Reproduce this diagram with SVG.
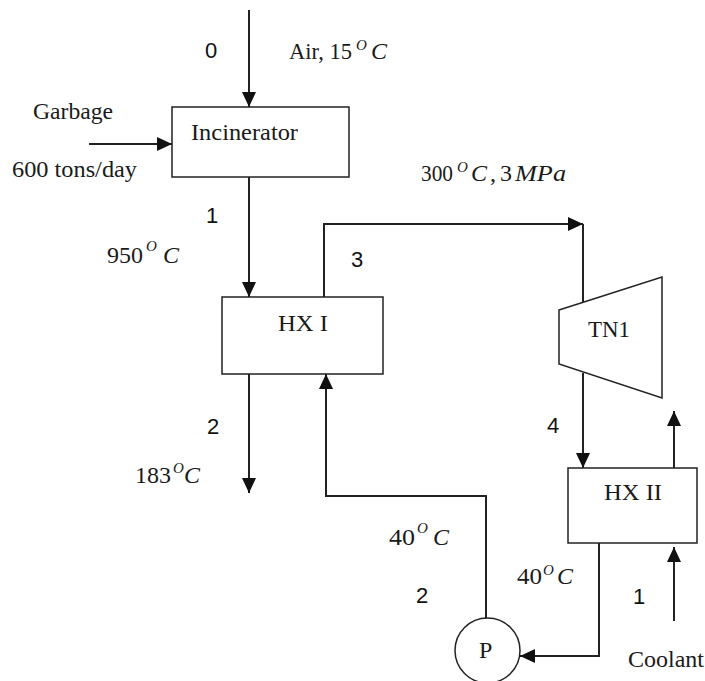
<svg xmlns="http://www.w3.org/2000/svg" width="705" height="681" viewBox="0 0 705 681">
<style>
.box{fill:#fff;stroke:#222;stroke-width:1.5}
.ln{fill:none;stroke:#222;stroke-width:2}
.t{font-family:"Liberation Serif","Times New Roman",serif;font-size:24px;fill:#1a1a1a}
.it{font-style:italic}
.sup{font-family:"Liberation Serif","Times New Roman",serif;font-style:italic;font-size:15px;fill:#1a1a1a}
.n{font-family:"Liberation Sans",Arial,sans-serif;font-size:22px;fill:#111}
</style>
<defs>
<marker id="ah" markerUnits="userSpaceOnUse" markerWidth="16" markerHeight="14" refX="15" refY="7" orient="auto">
<path d="M0,0 L15,7 L0,14 z" fill="#111"/>
</marker>
</defs>
<rect width="705" height="681" fill="#fff"/>

<g id="connectors">
<path class="ln" d="M249,10 V107" marker-end="url(#ah)"/>
<path class="ln" d="M89,144 H172" marker-end="url(#ah)"/>
<path class="ln" d="M249,177 V297" marker-end="url(#ah)"/>
<path class="ln" d="M324,297 V224 H583" marker-end="url(#ah)"/>
<path class="ln" d="M583,224 V303"/>
<path class="ln" d="M249,374 V493" marker-end="url(#ah)"/>
<path class="ln" d="M486,618 V496 H326 V374" marker-end="url(#ah)"/>
<path class="ln" d="M583,373 V468" marker-end="url(#ah)"/>
<path class="ln" d="M674,468 V411" marker-end="url(#ah)"/>
<path class="ln" d="M674,621 V547" marker-end="url(#ah)"/>
<path class="ln" d="M599,543 V656 H520" marker-end="url(#ah)"/>
</g>

<g id="incinerator">
<rect class="box" x="172" y="107" width="177" height="70"/>
<text class="t" x="191" y="140" textLength="107" lengthAdjust="spacingAndGlyphs">Incinerator</text>
</g>

<g id="hx1">
<rect class="box" x="222" y="297" width="161" height="77"/>
<text class="t" x="278" y="331" textLength="50" lengthAdjust="spacingAndGlyphs">HX I</text>
</g>

<g id="turbine">
<path class="box" d="M559,310 L662,277 L662,398 L559,364 Z"/>
<text class="t" x="588" y="337" textLength="42" lengthAdjust="spacingAndGlyphs">TN1</text>
</g>

<g id="hx2">
<rect class="box" x="568" y="468" width="129" height="75"/>
<text class="t" x="604" y="500" textLength="58" lengthAdjust="spacingAndGlyphs">HX II</text>
</g>

<g id="pump">
<circle class="box" cx="487.5" cy="650.5" r="32.5"/>
<text class="t" x="479" y="658">P</text>
</g>

<g id="labels">
<text class="t" x="33" y="119" textLength="80" lengthAdjust="spacingAndGlyphs">Garbage</text>
<text class="t" x="12" y="177" textLength="125" lengthAdjust="spacingAndGlyphs">600 tons/day</text>
<text class="t" x="628" y="667" textLength="76" lengthAdjust="spacingAndGlyphs">Coolant</text>

<text class="t" x="289" y="59" textLength="63" lengthAdjust="spacingAndGlyphs">Air, 15</text>
<text class="sup" x="356" y="50">O</text>
<text class="t it" x="371" y="59">C</text>

<text class="t" x="107" y="263" textLength="36" lengthAdjust="spacingAndGlyphs">950</text>
<text class="sup" x="146" y="251">O</text>
<text class="t it" x="163" y="263">C</text>

<text class="t" x="135" y="483" textLength="36" lengthAdjust="spacingAndGlyphs">183</text>
<text class="sup" x="173" y="473">O</text>
<text class="t it" x="184" y="483">C</text>

<text class="t" x="421" y="181" textLength="32" lengthAdjust="spacingAndGlyphs">300</text>
<text class="sup" x="457" y="172">O</text>
<text class="t it" x="471" y="181">C</text>
<text class="t" x="490" y="181">,</text>
<text class="t" x="500" y="181">3</text>
<text class="t it" x="515" y="181" textLength="51" lengthAdjust="spacingAndGlyphs">MPa</text>

<text class="t" x="389" y="545" textLength="26" lengthAdjust="spacingAndGlyphs">40</text>
<text class="sup" x="417" y="533">O</text>
<text class="t it" x="433" y="545">C</text>

<text class="t" x="517" y="584" textLength="25" lengthAdjust="spacingAndGlyphs">40</text>
<text class="sup" x="543" y="575">O</text>
<text class="t it" x="557" y="584">C</text>

<text class="n" x="205" y="58">0</text>
<text class="n" x="206" y="223">1</text>
<text class="n" x="351" y="267">3</text>
<text class="n" x="207" y="434">2</text>
<text class="n" x="547" y="433">4</text>
<text class="n" x="416" y="603">2</text>
<text class="n" x="633" y="604">1</text>
</g>
</svg>
